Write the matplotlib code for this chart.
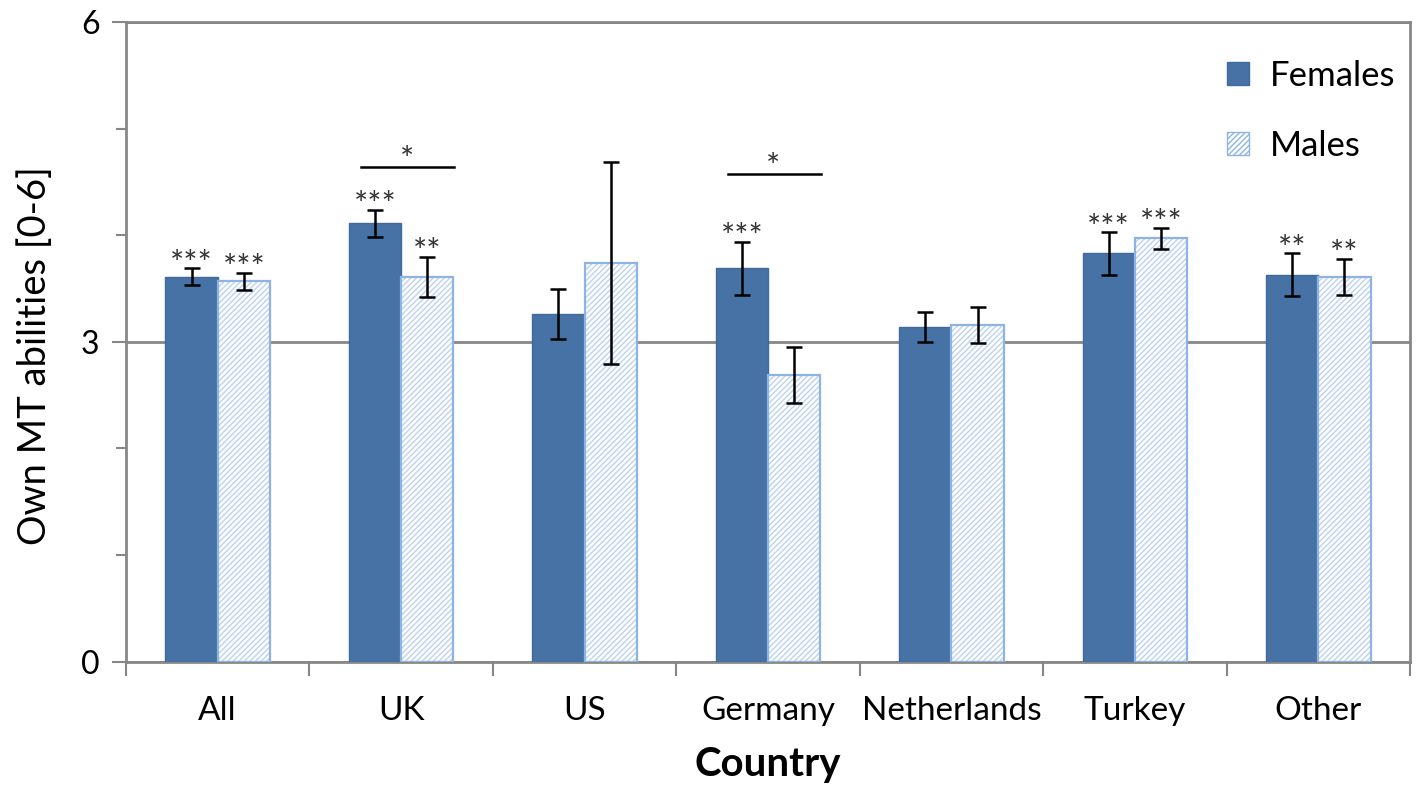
import matplotlib
matplotlib.use("Agg")
import matplotlib.pyplot as plt
import numpy as np
from matplotlib.patches import Patch
from matplotlib.ticker import MultipleLocator

plt.rcParams["font.family"] = ["Lato", "DejaVu Sans"]
plt.rcParams["hatch.linewidth"] = 1.0

countries = ["All", "UK", "US", "Germany", "Netherlands", "Turkey", "Other"]
females = [3.61, 4.11, 3.26, 3.69, 3.14, 3.83, 3.63]
females_err = [0.08, 0.13, 0.235, 0.25, 0.14, 0.20, 0.20]
males = [3.57, 3.61, 3.74, 2.69, 3.16, 3.97, 3.61]
males_err = [0.08, 0.19, 0.95, 0.26, 0.17, 0.10, 0.17]
females_sig = ["***", "***", "", "***", "", "***", "**"]
males_sig = ["***", "**", "", "", "", "***", "**"]
# female vs male comparisons: (category index, bracket height)
pair_sig = [(1, 4.64, "*"), (3, 4.57, "*")]

FEMALE_COLOR = "#4672a6"
MALE_EDGE = "#8db4e3"
MALE_HATCH = "#bcd2ef"
AXIS_GRAY = "#878787"
STAR_KW = dict(textcoords="offset points", ha="center", va="baseline", fontsize=24, color="#333333")

fig = plt.figure(figsize=(14.17, 7.88), dpi=100)
ax = fig.add_axes([0.0889, 0.1605, 0.9062, 0.8115])

x = np.arange(len(countries))
w = 0.285

ax.bar(x - w / 2, females, w, color=FEMALE_COLOR, edgecolor="#41699a", linewidth=1.0, zorder=3)
ax.bar(x + w / 2, males, w, color="white", edgecolor=MALE_HATCH, linewidth=0, hatch="//////", zorder=3)
ax.bar(x + w / 2, males, w, fill=False, edgecolor=MALE_EDGE, linewidth=1.6, zorder=4)

err_kw = dict(fmt="none", ecolor="black", elinewidth=1.8, capsize=5.5, capthick=1.8, zorder=5)
ax.errorbar(x - w / 2, females, yerr=females_err, **err_kw)
ax.errorbar(x + w / 2, males, yerr=males_err, **err_kw)

for xi, m, e, s in zip(x - w / 2, females, females_err, females_sig):
    if s:
        ax.annotate(s, (xi, m + e), xytext=(0, -4), **STAR_KW)
for xi, m, e, s in zip(x + w / 2, males, males_err, males_sig):
    if s:
        ax.annotate(s, (xi, m + e), xytext=(0, -4), **STAR_KW)

for idx, y, s in pair_sig:
    ax.plot([idx - 0.218, idx + 0.29], [y, y], color="black", lw=1.8, zorder=5)
    ax.annotate(s, (idx + 0.03, y), xytext=(0, -2), **STAR_KW)

ax.set_xlim(-0.5, len(countries) - 0.5)
ax.set_ylim(0, 6)
ax.yaxis.set_major_locator(MultipleLocator(3))
ax.yaxis.set_minor_locator(MultipleLocator(1))
ax.grid(axis="y", which="major", color=AXIS_GRAY, lw=2.0, zorder=1)
ax.set_axisbelow(True)

ax.set_xticks(x)
ax.set_xticklabels(countries, fontsize=24)
ax.set_xticks(np.arange(len(countries) + 1) - 0.5, minor=True)
ax.tick_params(axis="x", which="major", length=0, pad=25)
ax.tick_params(axis="x", which="minor", length=10, width=1.5, color=AXIS_GRAY)
ax.tick_params(axis="y", which="major", length=10, width=1.5, color=AXIS_GRAY, labelsize=23, pad=9)
ax.tick_params(axis="y", which="minor", length=7, width=1.5, color=AXIS_GRAY)

for sp in ax.spines.values():
    sp.set_color(AXIS_GRAY)
    sp.set_linewidth(2.0)

ax.set_ylabel("Own MT abilities [0-6]", fontsize=27.5)
ax.yaxis.set_label_coords(-0.057, 0.479)
ax.set_xlabel("Country", fontsize=29, fontweight="bold", labelpad=14)

handles = [
    Patch(facecolor=FEMALE_COLOR, edgecolor="#41699a", label="Females"),
    Patch(facecolor="white", edgecolor=MALE_EDGE, hatch="//////", label="Males"),
]
ax.legend(handles=handles, loc="upper right", bbox_to_anchor=(1.013, 0.99), frameon=False,
          fontsize=25, handlelength=0.65, handleheight=0.65, handletextpad=0.6, labelspacing=1.1)

fig.savefig("out.png", dpi=100)
